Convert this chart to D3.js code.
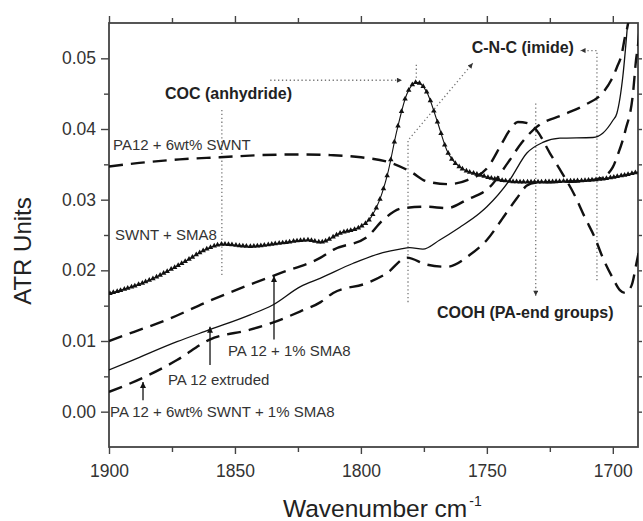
<!DOCTYPE html>
<html>
<head>
<meta charset="utf-8">
<script src="https://cdn.jsdelivr.net/npm/d3@7"></script>
<style>
  body { margin: 0; background: #fff; }
  svg { display: block; font-family: "Liberation Sans", Arial, sans-serif; }
</style>
</head>
<body>
<svg id="chart"></svg>
<script>
// --------------------------------------------------------------------------------------
// values: [wavenumber cm-1, ATR units]
// --------------------------------------------------------------------------------------
var pa12_swnt = [
  [1900, 0.0347], [1888, 0.0352], [1872, 0.0357], [1856, 0.0360], [1840, 0.0363],
  [1824, 0.0364], [1812, 0.0363], [1800, 0.0360], [1788, 0.0352], [1780, 0.0339],
  [1774, 0.0326], [1765, 0.0322], [1757.5, 0.0328], [1749.6, 0.0346], [1744, 0.0380],
  [1741, 0.0398], [1737.7, 0.0410], [1733.7, 0.0408], [1730.2, 0.0398], [1725, 0.0366],
  [1720.2, 0.0338], [1715.1, 0.0306], [1711.1, 0.0275], [1707.1, 0.0246], [1704, 0.0218],
  [1700, 0.0189], [1697.2, 0.0172], [1695, 0.0168], [1692.5, 0.0179], [1690.5, 0.0212],
  [1689.3, 0.0233]
];
var swnt_sma8 = [
  [1900, 0.0167], [1884, 0.0186], [1871, 0.0210], [1860, 0.0232], [1855, 0.0237],
  [1844, 0.0234], [1831, 0.0239], [1821, 0.0243], [1816, 0.0240], [1808, 0.0253],
  [1800, 0.0262], [1796, 0.0275], [1792.5, 0.0300], [1789.5, 0.0335], [1785.7, 0.0398],
  [1781.7, 0.0450], [1777.8, 0.0466], [1773.8, 0.0452], [1769.8, 0.0412], [1765.9, 0.0370],
  [1760.7, 0.0346], [1752.8, 0.0335], [1745, 0.0328], [1735, 0.0325], [1720, 0.0326],
  [1705, 0.0329], [1690, 0.0339]
];
var pa12_sma8 = [
  [1900, 0.0100], [1890, 0.0113], [1877, 0.0130], [1860, 0.0157], [1844, 0.0180],
  [1832, 0.0196], [1816, 0.0218], [1811, 0.0229], [1797.6, 0.0247], [1791.3, 0.0271],
  [1783.3, 0.0288], [1773.8, 0.0290], [1765.9, 0.0288], [1757.9, 0.0300], [1748.8, 0.0318],
  [1741.7, 0.0352], [1736.1, 0.0381], [1730.2, 0.0403], [1719.8, 0.0420], [1711.1, 0.0434],
  [1703.6, 0.0453], [1700.5, 0.0470], [1698.4, 0.0487], [1696.4, 0.0507], [1695.2, 0.0530],
  [1694, 0.0548], [1693.3, 0.0565]
];
var pa12_extruded = [
  [1900, 0.0059], [1890.5, 0.0073], [1873, 0.0099], [1860, 0.0116], [1844, 0.0137],
  [1835, 0.0151], [1824, 0.0177], [1816, 0.0189], [1803, 0.0210], [1791.3, 0.0225],
  [1784.5, 0.0230], [1780.6, 0.0232], [1775.4, 0.0230], [1768.7, 0.0243], [1760.7, 0.0261],
  [1752.8, 0.0281], [1750, 0.0290], [1740.9, 0.0328], [1734.1, 0.0366], [1727.8, 0.0381],
  [1721, 0.0387], [1707.9, 0.0388], [1704, 0.0394], [1700, 0.0412], [1698.4, 0.0422],
  [1696, 0.0475], [1694, 0.0554], [1693.5, 0.0575]
];
var pa12_swnt_sma8 = [
  [1900, 0.0028], [1886.5, 0.0048], [1873, 0.0073], [1860, 0.0102], [1844, 0.0116],
  [1835, 0.0126], [1824, 0.0142], [1816, 0.0155], [1811, 0.0168], [1797.6, 0.0182],
  [1789.7, 0.0196], [1781.7, 0.0218], [1773.8, 0.0208], [1765.9, 0.0205], [1756.7, 0.0222],
  [1750, 0.0243], [1742.9, 0.0278], [1738.1, 0.0302], [1734.1, 0.0320], [1730.9, 0.0324],
  [1720, 0.0325], [1710, 0.0327], [1705, 0.0330], [1700, 0.0346], [1698.4, 0.0360],
  [1695, 0.0398], [1692, 0.0450], [1690.8, 0.0497], [1689.8, 0.0525], [1689, 0.0560]
];

var x_ticks = [1900, 1850, 1800, 1750, 1700];
var x_minor = [1875, 1825, 1775, 1725];
var y_ticks = [0.00, 0.01, 0.02, 0.03, 0.04, 0.05];
var y_minor = [0.005, 0.015, 0.025, 0.035, 0.045];

// --------------------------------------------------------------------------------------
var width = 643, height = 521;
var margin = {top: 23, right: 5, bottom: 74, left: 109};
var w = width - margin.left - margin.right;
var h = height - margin.top - margin.bottom;

var x = d3.scaleLinear().domain([1900, 1690]).range([0, w]);
var y = d3.scaleLinear().domain([-0.005, 0.055]).range([h, 0]);

var svg = d3.select("#chart").attr("width", width).attr("height", height);
var defs = svg.append("defs");

defs.append("clipPath").attr("id", "plot_clip")
    .append("rect").attr("width", w).attr("height", h);

// arrow heads
defs.append("marker")
    .attr("id", "head_solid")
    .attr("viewBox", "0 0 10 10")
    .attr("refX", 10).attr("refY", 5)
    .attr("markerUnits", "userSpaceOnUse")
    .attr("markerWidth", 9).attr("markerHeight", 6)
    .attr("orient", "auto")
    .append("path").attr("d", "M0,0 L10,5 L0,10 Z").style("fill", "#111");

defs.append("marker")
    .attr("id", "head_dot")
    .attr("viewBox", "0 0 10 10")
    .attr("refX", 10).attr("refY", 5)
    .attr("markerUnits", "userSpaceOnUse")
    .attr("markerWidth", 7).attr("markerHeight", 5)
    .attr("orient", "auto")
    .append("path").attr("d", "M0,0 L10,5 L0,10 Z").style("fill", "#333");

var g = svg.append("g")
    .attr("transform", "translate(" + margin.left + "," + margin.top + ")");

// ==================================================
// axes (box with ticks pointing out)
var axis_color = "#444";

function style_axis(sel, labels)
{
  sel.selectAll(".domain").remove();
  sel.selectAll("line").style("stroke", axis_color).style("stroke-width", 1.4);
  if(labels)
    sel.selectAll("text").style("font-size", "17.5px").style("fill", "#333");
}

g.append("g").attr("transform", "translate(0," + h + ")")
 .call(d3.axisBottom(x).tickValues(x_ticks).tickSize(7).tickPadding(11).tickFormat(d3.format("d")))
 .call(style_axis, true);
g.append("g").attr("transform", "translate(0," + h + ")")
 .call(d3.axisBottom(x).tickValues(x_minor).tickSize(5).tickFormat(""))
 .call(style_axis, false);

g.append("g")
 .call(d3.axisTop(x).tickValues(x_ticks).tickSize(7).tickFormat(""))
 .call(style_axis, false);
g.append("g")
 .call(d3.axisTop(x).tickValues(x_minor).tickSize(5).tickFormat(""))
 .call(style_axis, false);

g.append("g")
 .call(d3.axisLeft(y).tickValues(y_ticks).tickSize(8).tickPadding(5).tickFormat(d3.format(".2f")))
 .call(style_axis, true);
g.append("g")
 .call(d3.axisLeft(y).tickValues(y_minor).tickSize(5).tickFormat(""))
 .call(style_axis, false);

g.append("g").attr("transform", "translate(" + w + ",0)")
 .call(d3.axisRight(y).tickValues(y_ticks.concat(y_minor)).tickSize(4).tickFormat(""))
 .call(style_axis, false);

g.append("rect")
 .attr("width", w).attr("height", h)
 .style("fill", "none").style("stroke", axis_color).style("stroke-width", 1.8);

// ==================================================
// axis titles
svg.append("text")
   .attr("transform", "translate(31,251) rotate(-90)")
   .attr("text-anchor", "middle")
   .style("font-size", "24px")
   .style("fill", "#222")
   .text("ATR Units");

var xt = svg.append("text")
   .attr("x", 283).attr("y", 517)
   .style("font-size", "24.5px")
   .style("fill", "#222")
   .text("Wavenumber cm");
xt.append("tspan")
  .attr("dy", "-11")
  .attr("dx", "2")
  .style("font-size", "14px")
  .text("-1");

// ==================================================
// annotation guides (grey dotted)
var guides = [
  {pts: [[1836, 0.0469], [1783.7, 0.0469]], arrow: true},
  {pts: [[1778, 0.0491], [1778, 0.0471]], arrow: false},
  {pts: [[1855.2, 0.0427], [1855.2, 0.0191]], arrow: false},
  {pts: [[1781.3, 0.0155], [1781.3, 0.0384], [1755.6, 0.0493]], arrow: true},
  {pts: [[1706.3, 0.0186], [1706.3, 0.0511], [1712.8, 0.0511]], arrow: true},
  {pts: [[1730.6, 0.0436], [1730.6, 0.0164]], arrow: true}
];

var guide_line = d3.line()
  .x(function(d) { return x(d[0]); })
  .y(function(d) { return y(d[1]); });

g.selectAll(".guide")
 .data(guides)
 .enter()
 .append("path")
 .attr("class", "guide")
 .attr("d", function(d) { return guide_line(d.pts); })
 .attr("marker-end", function(d) { return d.arrow ? "url(#head_dot)" : null; })
 .style("fill", "none")
 .style("stroke", "#777")
 .style("stroke-width", 1.3)
 .style("stroke-dasharray", "1.3,2.6");

// ==================================================
// spectra
var line = d3.line()
  .x(function(d) { return x(d[0]); })
  .y(function(d) { return y(d[1]); })
  .curve(d3.curveMonotoneX);

var plot = g.append("g").attr("clip-path", "url(#plot_clip)");

[pa12_swnt, pa12_sma8, pa12_swnt_sma8].forEach(function(s) {
  plot.append("path")
      .attr("d", line(s))
      .style("fill", "none")
      .style("stroke", "#111")
      .style("stroke-width", 2.4)
      .style("stroke-dasharray", "14,8");
});

plot.append("path")
    .attr("d", line(pa12_extruded))
    .style("fill", "none")
    .style("stroke", "#111")
    .style("stroke-width", 1.3);

var swnt_path = plot.append("path")
    .attr("d", line(swnt_sma8))
    .style("fill", "none")
    .style("stroke", "#111")
    .style("stroke-width", 1.1);

// triangle symbols spaced evenly in wavenumber along the SWNT + SMA8 trace
var node = swnt_path.node();
var total = node.getTotalLength();
var samples = [];
for(var l = 0; l <= total; l += 0.5)
  samples.push(node.getPointAtLength(l));

var tri = [];
var k = 0;
for(var px = x(1900) + 1; px <= x(1690); px += 3.6) {
  while(k < samples.length - 1 && samples[k + 1].x <= px)
    k++;
  tri.push(samples[k]);
}

plot.selectAll(".tri")
    .data(tri)
    .enter()
    .append("path")
    .attr("class", "tri")
    .attr("d", d3.symbol(d3.symbolTriangle, 13))
    .attr("transform", function(d) { return "translate(" + d.x + "," + d.y + ")"; })
    .style("fill", "#111");

// ==================================================
// curve labels with solid arrows
var label_arrows = [
  [1834.5, 0.0102, 0.0192],
  [1859.9, 0.0066, 0.0120],
  [1886.5, 0.0016, 0.0042]
];

g.selectAll(".larrow")
 .data(label_arrows)
 .enter()
 .append("line")
 .attr("class", "larrow")
 .attr("x1", function(d) { return x(d[0]); })
 .attr("x2", function(d) { return x(d[0]); })
 .attr("y1", function(d) { return y(d[1]); })
 .attr("y2", function(d) { return y(d[2]); })
 .attr("marker-end", "url(#head_solid)")
 .style("stroke", "#111")
 .style("stroke-width", 1.3);

var labels = [
  {text: "COC (anhydride)", wn: 1877.8, v: 0.0442, bold: true},
  {text: "C-N-C (imide)", wn: 1756, v: 0.0507, bold: true},
  {text: "COOH (PA-end groups)", wn: 1769.8, v: 0.0132, bold: true},
  {text: "PA12 + 6wt% SWNT", wn: 1898.4, v: 0.0370, bold: false},
  {text: "SWNT + SMA8", wn: 1897.6, v: 0.0243, bold: false},
  {text: "PA 12 + 1% SMA8", wn: 1852.8, v: 0.0079, bold: false},
  {text: "PA 12 extruded", wn: 1876.6, v: 0.0038, bold: false},
  {text: "PA 12 + 6wt% SWNT + 1% SMA8", wn: 1899.6, v: -0.0007, bold: false}
];

g.selectAll(".lbl")
 .data(labels)
 .enter()
 .append("text")
 .attr("class", "lbl")
 .attr("x", function(d) { return x(d.wn); })
 .attr("y", function(d) { return y(d.v); })
 .style("font-size", function(d) { return d.bold ? "16px" : "15px"; })
 .style("font-weight", function(d) { return d.bold ? "bold" : "normal"; })
 .style("fill", function(d) { return d.bold ? "#222" : "#333"; })
 .text(function(d) { return d.text; });
</script>
</body>
</html>
